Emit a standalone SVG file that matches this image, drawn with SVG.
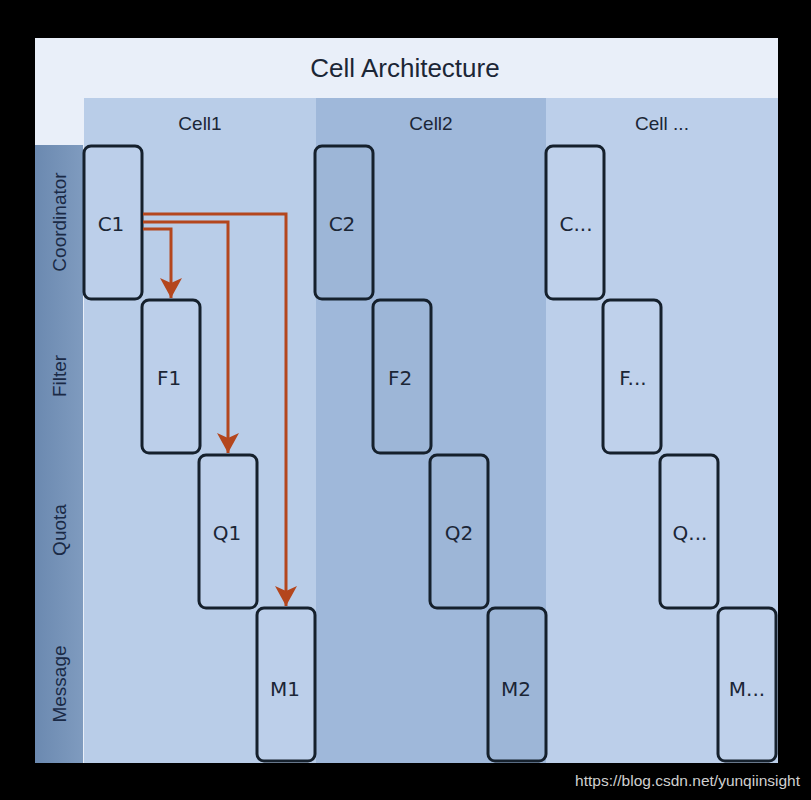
<svg xmlns="http://www.w3.org/2000/svg" width="811" height="800" viewBox="0 0 811 800">
<defs>
<style>
.box{stroke:#15202c;stroke-width:3}
.b1{fill:#bccfea}
.b2{fill:#9db6d7}
.b3{fill:#bfd1eb}
.lbl{font-family:"DejaVu Sans",sans-serif;font-size:20px;fill:#1b2636;text-anchor:middle}
.row{font-family:"Liberation Sans",Arial,sans-serif;font-size:19px;fill:#1a2a46;text-anchor:middle}
.hdr{font-family:"Liberation Sans",Arial,sans-serif;font-size:19px;fill:#1b2636;text-anchor:middle}
.arr{fill:none;stroke:#b4461d;stroke-width:3}
</style>
<linearGradient id="rowg" x1="0" y1="0" x2="1" y2="0">
<stop offset="0" stop-color="#6b89b0"/>
<stop offset="1" stop-color="#7f9bbf"/>
</linearGradient>
<marker id="ah" viewBox="0 0 20 22" refX="20" refY="11" markerWidth="20" markerHeight="22" markerUnits="userSpaceOnUse" orient="auto">
<path d="M0,0 L20,11 L0,22 L5,11 z" fill="#b4461d"/>
</marker>
</defs>
<rect x="0" y="0" width="811" height="800" fill="#000"/>
<rect x="35" y="38" width="743" height="725" fill="#e9eff9"/>
<rect x="84" y="98" width="232" height="665" fill="#b9cde8"/>
<rect x="316" y="98" width="230" height="665" fill="#9fb8da"/>
<rect x="546" y="98" width="232" height="665" fill="#bccfea"/>
<rect x="35" y="145" width="48" height="618" fill="url(#rowg)"/>
<text x="405" y="77" font-family="'Liberation Sans',Arial,sans-serif" font-size="26" fill="#1b2636" text-anchor="middle">Cell Architecture</text>
<text class="hdr" x="200" y="130">Cell1</text>
<text class="hdr" x="431" y="130">Cell2</text>
<text class="hdr" x="662" y="130">Cell ...</text>
<text class="row" transform="translate(66,222) rotate(-90)">Coordinator</text>
<text class="row" transform="translate(66,376) rotate(-90)">Filter</text>
<text class="row" transform="translate(66,530) rotate(-90)">Quota</text>
<text class="row" transform="translate(66,684) rotate(-90)">Message</text>
<g id="C1"><rect class="box b1" x="84" y="146" width="58" height="153" rx="7"/><text class="lbl" x="111" y="231">C1</text></g>
<g id="F1"><rect class="box b1" x="142" y="300" width="58" height="153" rx="7"/><text class="lbl" x="169" y="385">F1</text></g>
<g id="Q1"><rect class="box b1" x="199" y="455" width="58" height="153" rx="7"/><text class="lbl" x="227" y="540">Q1</text></g>
<g id="M1"><rect class="box b1" x="257" y="608" width="58" height="153" rx="7"/><text class="lbl" x="285" y="696">M1</text></g>
<g id="C2"><rect class="box b2" x="315" y="146" width="58" height="153" rx="7"/><text class="lbl" x="342" y="231">C2</text></g>
<g id="F2"><rect class="box b2" x="373" y="300" width="58" height="153" rx="7"/><text class="lbl" x="400" y="385">F2</text></g>
<g id="Q2"><rect class="box b2" x="430" y="455" width="58" height="153" rx="7"/><text class="lbl" x="459" y="540">Q2</text></g>
<g id="M2"><rect class="box b2" x="488" y="608" width="58" height="153" rx="7"/><text class="lbl" x="516" y="696">M2</text></g>
<g id="C3"><rect class="box b3" x="546" y="146" width="58" height="153" rx="7"/><text class="lbl" x="576" y="231">C...</text></g>
<g id="F3"><rect class="box b3" x="603" y="300" width="58" height="153" rx="7"/><text class="lbl" x="633" y="385">F...</text></g>
<g id="Q3"><rect class="box b3" x="660" y="455" width="58" height="153" rx="7"/><text class="lbl" x="690" y="540">Q...</text></g>
<g id="M3"><rect class="box b3" x="718" y="608" width="58" height="153" rx="7"/><text class="lbl" x="747" y="696">M...</text></g>
<g id="connectors">
<path class="arr" d="M143,214 H286 V606" marker-end="url(#ah)"/>
<path class="arr" d="M143,222 H228 V453" marker-end="url(#ah)"/>
<path class="arr" d="M143,229 H171 V298" marker-end="url(#ah)"/>
</g>
<text x="800" y="786" font-family="'Liberation Sans',Arial,sans-serif" font-size="15.5" fill="#d0d0d0" text-anchor="end">https://blog.csdn.net/yunqiinsight</text>
</svg>
